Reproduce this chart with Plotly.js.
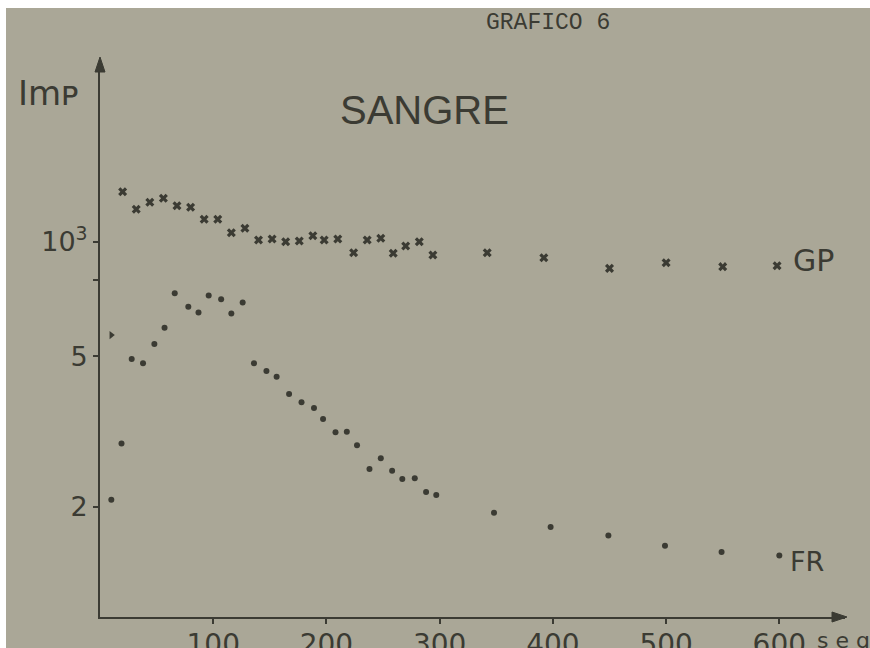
<!DOCTYPE html>
<html>
<head>
<meta charset="utf-8">
<script src="https://cdn.plot.ly/plotly-3.0.1.min.js"></script>
<style>
html,body{margin:0;padding:0;background:#ffffff;width:870px;height:648px;overflow:hidden;}
#chart{position:absolute;left:6px;top:8px;width:864px;height:640px;}
</style>
</head>
<body>
<div id="chart"></div>
<script>
// GP series (x marks)
const gpTime = [20, 32, 44, 56, 68, 80, 92, 104, 116, 128, 140, 152, 164, 176, 188, 198, 210, 224, 236, 248, 259, 270, 282, 294, 342, 392, 450, 500, 550, 598];
const gpImp  = [1357, 1220, 1273, 1304, 1247, 1235, 1148, 1148, 1058, 1087, 1012, 1018, 1002, 1006, 1039, 1012, 1018, 937, 1012, 1023, 934, 976, 1002, 924, 937, 909, 852, 882, 861, 866];
// FR series (dots)
const frTime = [10, 19, 28, 38, 48, 57, 66, 78, 87, 96, 107, 116, 126, 136, 147, 156, 167, 178, 189, 197, 208, 218, 227, 238, 248, 258, 267, 278, 288, 297, 348, 398, 449, 499, 549, 600];
const frImp  = [209, 294, 491, 479, 538, 594, 732, 675, 652, 722, 706, 648, 692, 479, 457, 441, 397, 378, 365, 341, 315, 316, 291, 252, 269, 249, 237, 238, 219, 215, 193, 177, 168, 158, 152, 149];
// isolated mark near the origin
const oddTime = [10];
const oddImp  = [568];
// axis ticks
const xTickVals = [100, 200, 300, 400, 500, 600];
const xTickText = ["100", "200", "300", "400", "500", "600"];
const yTickVals = [200, 500, 1000];
const yTickText = ["2", "5", "10<sup>3</sup>"];

const ink = '#3b3b33';
const bg = '#aaa797';
const font = 'DejaVu Sans, Liberation Sans, sans-serif';

// pixel helpers (page pixels -> paper coords)
const X0 = 100, X1 = 845, Y0 = 617, Y1 = 63;
const px = v => (v - X0) / (X1 - X0);
const py = v => (Y0 - v) / (Y0 - Y1);

const traces = [
  {x: gpTime, y: gpImp, type: 'scatter', mode: 'markers', name: 'GP',
   marker: {symbol: 'x', size: 8, color: ink}},
  {x: frTime, y: frImp, type: 'scatter', mode: 'markers', name: 'FR',
   marker: {symbol: 'circle', size: 6, color: ink}},
  {x: oddTime, y: oddImp, type: 'scatter', mode: 'markers', name: 'FR*',
   marker: {symbol: 'triangle-right', size: 7, color: ink}}
];

function label(x, y, text, size, fam) {
  return {xref: 'paper', yref: 'paper', x: px(x), y: py(y), xanchor: 'center', yanchor: 'middle',
          text: text, showarrow: false, font: {family: fam || font, size: size, color: ink}};
}

const layout = {
  width: 864, height: 640,
  margin: {l: 94, r: 25, t: 55, b: 31},
  paper_bgcolor: bg, plot_bgcolor: bg,
  showlegend: false,
  xaxis: {
    range: [0, 658], showgrid: false, zeroline: false,
    showline: true, linecolor: ink, linewidth: 2,
    tickvals: xTickVals, ticktext: xTickText,
    ticks: 'outside', ticklen: 5, tickcolor: ink, tickwidth: 2,
    ticklabelstandoff: -4,
    tickfont: {family: font, size: 28, color: ink}
  },
  yaxis: {
    type: 'log', range: [2.0106, 3.4723], showgrid: false, zeroline: false,
    showline: true, linecolor: ink, linewidth: 2,
    tickvals: yTickVals, ticktext: yTickText,
    ticks: 'outside', ticklen: 5, tickcolor: ink, tickwidth: 2,
    tickfont: {family: font, size: 27, color: ink}
  },
  shapes: [
    {type: 'path', xref: 'paper', yref: 'paper', fillcolor: ink, line: {color: ink, width: 1},
     path: `M ${px(847)} ${py(617)} L ${px(832)} ${py(612)} L ${px(832)} ${py(622)} Z`},
    {type: 'path', xref: 'paper', yref: 'paper', fillcolor: ink, line: {color: ink, width: 1},
     path: `M ${px(100)} ${py(57)} L ${px(95)} ${py(72)} L ${px(105)} ${py(72)} Z`},
    {type: 'line', xref: 'paper', yref: 'paper', x0: px(93), x1: px(99), y0: py(280), y1: py(280),
     line: {color: ink, width: 2}}
  ],
  annotations: [
    label(48, 93, 'Imᴘ', 34),
    label(424, 110, 'SANGRE', 40, 'Liberation Sans, sans-serif'),
    label(548, 23, 'GRAFICO 6', 23, 'Liberation Mono, monospace'),
    label(813, 261, 'GP', 30),
    label(807, 561, 'FR', 27),
    {xref: 'paper', yref: 'paper', x: px(815), y: py(640), xanchor: 'left', yanchor: 'middle',
     text: 's e g', showarrow: false, font: {family: font, size: 22, color: ink}}
  ]
};

Plotly.newPlot('chart', traces, layout, {staticPlot: true, displayModeBar: false});
</script>
</body>
</html>
